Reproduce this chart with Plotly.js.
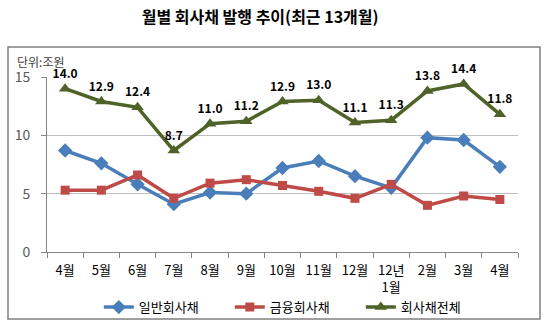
<!DOCTYPE html>
<html>
<head>
<meta charset="utf-8">
<script src="https://cdn.plot.ly/plotly-3.0.1.min.js"></script>
<style>
html,body{margin:0;padding:0;background:#fff;}
#chart{width:550px;height:328px;}
</style>
</head>
<body>
<div id="chart"></div>
<script>
const periods = ['2011-04','2011-05','2011-06','2011-07','2011-08','2011-09','2011-10','2011-11','2011-12','2012-01','2012-02','2012-03','2012-04'];
const months = ['4월','5월','6월','7월','8월','9월','10월','11월','12월','12년<br>1월','2월','3월','4월'];
const general = [8.7, 7.6, 5.8, 4.1, 5.1, 5.0, 7.2, 7.8, 6.5, 5.5, 9.8, 9.6, 7.3];
const financial = [5.3, 5.3, 6.6, 4.6, 5.9, 6.2, 5.7, 5.2, 4.6, 5.8, 4.0, 4.8, 4.5];
const total = [14.0, 12.9, 12.4, 8.7, 11.0, 11.2, 12.9, 13.0, 11.1, 11.3, 13.8, 14.4, 11.8];
const seriesNames = ['일반회사채', '금융회사채', '회사채전체'];
const yTicks = [0, 5, 10, 15];

const FONT = '"Noto Sans CJK KR", "Noto Sans", sans-serif';

const traces = [
  {
    x: periods, y: general, name: seriesNames[0], type: 'scatter', mode: 'lines+markers',
    line: {color: '#4A7EBB', width: 3.5},
    marker: {symbol: 'diamond', size: 11, color: '#4A7EBB'}
  },
  {
    x: periods, y: financial, name: seriesNames[1], type: 'scatter', mode: 'lines+markers',
    line: {color: '#BE4B48', width: 3.5},
    marker: {symbol: 'square', size: 9, color: '#BE4B48'}
  },
  {
    x: periods, y: total, name: seriesNames[2], type: 'scatter', mode: 'lines+markers+text',
    line: {color: '#4F6228', width: 3.5},
    marker: {symbol: 'triangle-up', size: 11, color: '#4F6228'},
    text: total.map(v => v.toFixed(1)),
    textposition: 'top center',
    textfont: {family: FONT, size: 12, color: '#000', weight: 'bold'},
    cliponaxis: false
  }
];

const layout = {
  width: 550, height: 328,
  margin: {l: 47, r: 32, t: 77, b: 76, autoexpand: false},
  paper_bgcolor: '#fff', plot_bgcolor: '#fff',
  font: {family: FONT, color: '#404040'},
  title: {
    text: '월별 회사채 발행 추이(최근 13개월)',
    font: {family: FONT, size: 16, color: '#000', weight: 'bold'},
    x: 0.473, xanchor: 'center', y: 0.948, yanchor: 'middle'
  },
  xaxis: {
    type: 'category',
    categoryorder: 'array', categoryarray: periods,
    tickmode: 'array', tickvals: periods, ticktext: months,
    showgrid: false,
    showline: true, linecolor: '#868686', linewidth: 1,
    ticks: 'outside', tickson: 'boundaries', ticklen: 5, tickcolor: '#868686',
    ticklabelstandoff: 6,
    tickfont: {family: FONT, size: 13, color: '#000'},
    range: [-0.5, 12.5],
    automargin: false,
    fixedrange: true
  },
  yaxis: {
    range: [0, 15],
    tickvals: yTicks,
    showgrid: true, gridcolor: '#BFBFBF', gridwidth: 1,
    showline: true, linecolor: '#868686', linewidth: 1,
    ticks: 'outside', ticklen: 5, tickcolor: '#868686',
    ticklabelstandoff: 8,
    tickfont: {family: FONT, size: 14, color: '#595959'},
    zeroline: false,
    automargin: false,
    fixedrange: true
  },
  showlegend: true,
  legend: {
    orientation: 'h',
    x: 0.11, xanchor: 'left',
    y: -0.315, yanchor: 'middle',
    font: {family: FONT, size: 13, color: '#000'},
    itemwidth: 30,
    entrywidth: 86, entrywidthmode: 'pixels',
    bgcolor: 'rgba(0,0,0,0)'
  },
  annotations: [
    {
      xref: 'paper', yref: 'paper', x: -0.068, y: 1.09,
      xanchor: 'left', yanchor: 'middle', showarrow: false,
      text: '단위:조원', font: {family: FONT, size: 12, color: '#404040'}
    }
  ],
  shapes: [
    {
      type: 'rect', xref: 'paper', yref: 'paper',
      x0: -0.0828, x1: 1.0467, y0: -0.383, y1: 1.171,
      line: {color: '#808080', width: 1.5}, fillcolor: 'rgba(0,0,0,0)', layer: 'below'
    }
  ]
};

Plotly.newPlot('chart', traces, layout, {displayModeBar: false, staticPlot: true});
</script>
</body>
</html>
